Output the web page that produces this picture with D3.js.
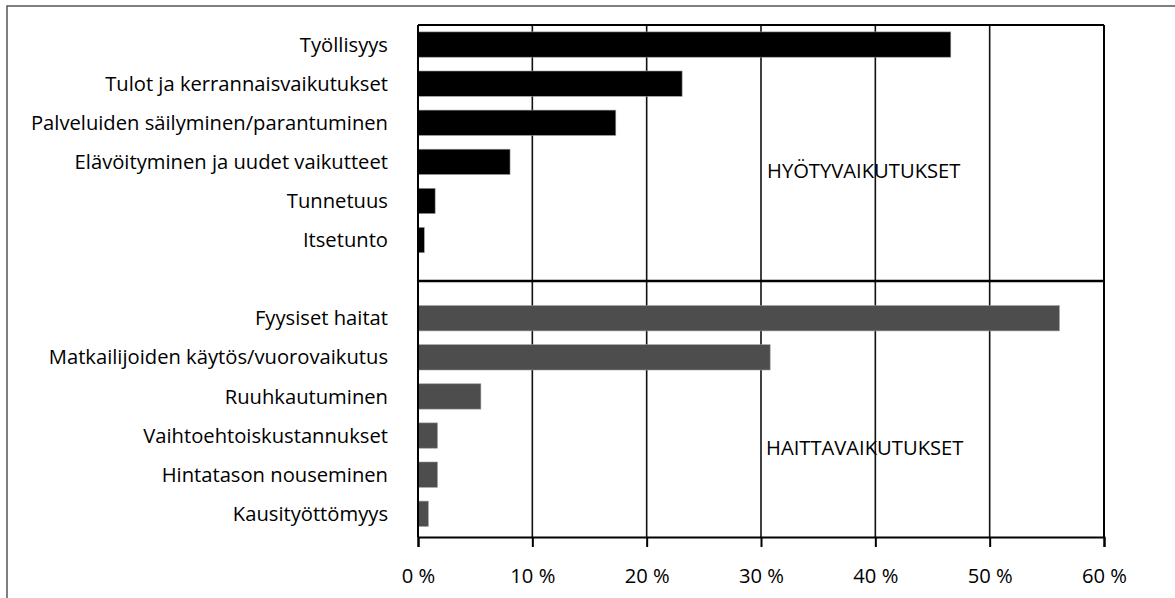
<!DOCTYPE html>
<html><head><meta charset="utf-8">
<script src="https://cdn.jsdelivr.net/npm/d3@7"></script>
<style>body{margin:0;background:#fff}svg{display:block}text{font-family:"Open Sans",sans-serif}</style>
</head><body>
<svg id="c" width="1175" height="598"></svg>
<script>
const benefitCats = ["Työllisyys","Tulot ja kerrannaisvaikutukset","Palveluiden säilyminen/parantuminen","Elävöityminen ja uudet vaikutteet","Tunnetuus","Itsetunto"];
const benefitVals = [46.6, 23.1, 17.3, 8.05, 1.5, 0.55];
const harmCats = ["Fyysiset haitat","Matkailijoiden käytös/vuorovaikutus","Ruuhkautuminen","Vaihtoehtoiskustannukset","Hintatason nouseminen","Kausityöttömyys"];
const harmVals = [56.1, 30.8, 5.5, 1.7, 1.7, 0.9];
const xTicks = [0,10,20,30,40,50,60];
const groupLabels = ["HYÖTYVAIKUTUKSET","HAITTAVAIKUTUKSET"];

const FS = 20.2;
const svg = d3.select("#c");
const L = 418, R = 1104, T = 25, B = 537;
const x = d3.scaleLinear().domain([0,60]).range([L,R]);
const rows = [...benefitCats, "__gap__", ...harmCats];
const y = d3.scaleBand().domain(rows).range([T, 533.3]).paddingInner(0.353).paddingOuter(0.1765);

// outer frame
svg.append("rect").attr("x",7).attr("y",6).attr("width",1200).attr("height",700)
  .attr("fill","none").attr("stroke","#555").attr("stroke-width",1.5);

// grid
svg.append("g").selectAll("line").data(xTicks.slice(1,-1)).join("line")
  .attr("x1",d=>x(d)).attr("x2",d=>x(d)).attr("y1",T).attr("y2",B)
  .attr("stroke","#111").attr("stroke-width",1.6);

const data = [
  ...benefitCats.map((c,i)=>({c, v:benefitVals[i], fill:"#000"})),
  ...harmCats.map((c,i)=>({c, v:harmVals[i], fill:"#4d4d4d"}))
];
svg.append("g").selectAll("rect").data(data).join("rect")
  .attr("x",x(0)).attr("y",d=>y(d.c)).attr("width",d=>x(d.v)-x(0)).attr("height",y.bandwidth())
  .attr("fill",d=>d.fill).attr("stroke","#999").attr("stroke-width",0.6);

// plot box
svg.append("line").attr("x1",L).attr("x2",R).attr("y1",T).attr("y2",T).attr("stroke","#000").attr("stroke-width",2);
svg.append("line").attr("x1",R).attr("x2",R).attr("y1",T).attr("y2",B).attr("stroke","#000").attr("stroke-width",2);
svg.append("line").attr("x1",L).attr("x2",L).attr("y1",T).attr("y2",B).attr("stroke","#000").attr("stroke-width",2);
// divider
const divY = y("__gap__") + y.bandwidth()/2 + 1.8;
svg.append("line").attr("x1",L).attr("x2",R).attr("y1",divY).attr("y2",divY).attr("stroke","#000").attr("stroke-width",2.5);

// x axis
const xa = svg.append("g").attr("transform",`translate(0,${B})`)
  .call(d3.axisBottom(x).tickValues(xTicks).tickFormat(d=>d+" %").tickSize(10).tickPadding(21.5));
xa.select(".domain").attr("stroke","#000").attr("stroke-width",2);
xa.selectAll(".tick line").attr("stroke","#000").attr("stroke-width",2);
xa.selectAll("text").attr("font-size",FS).attr("fill","#000").attr("font-family",'"Open Sans",sans-serif');

// category labels
svg.append("g").selectAll("text").data(data).join("text")
  .attr("x",388).attr("y",d=>y(d.c)+y.bandwidth()/2).attr("dy","0.35em")
  .attr("text-anchor","end").attr("font-size",FS).attr("fill","#000").text(d=>d.c);

// group labels
svg.append("text").attr("x",767).attr("y",177.5).attr("font-size",FS).text(groupLabels[0]);
svg.append("text").attr("x",766).attr("y",455).attr("font-size",FS).text(groupLabels[1]);
</script>
</body></html>
